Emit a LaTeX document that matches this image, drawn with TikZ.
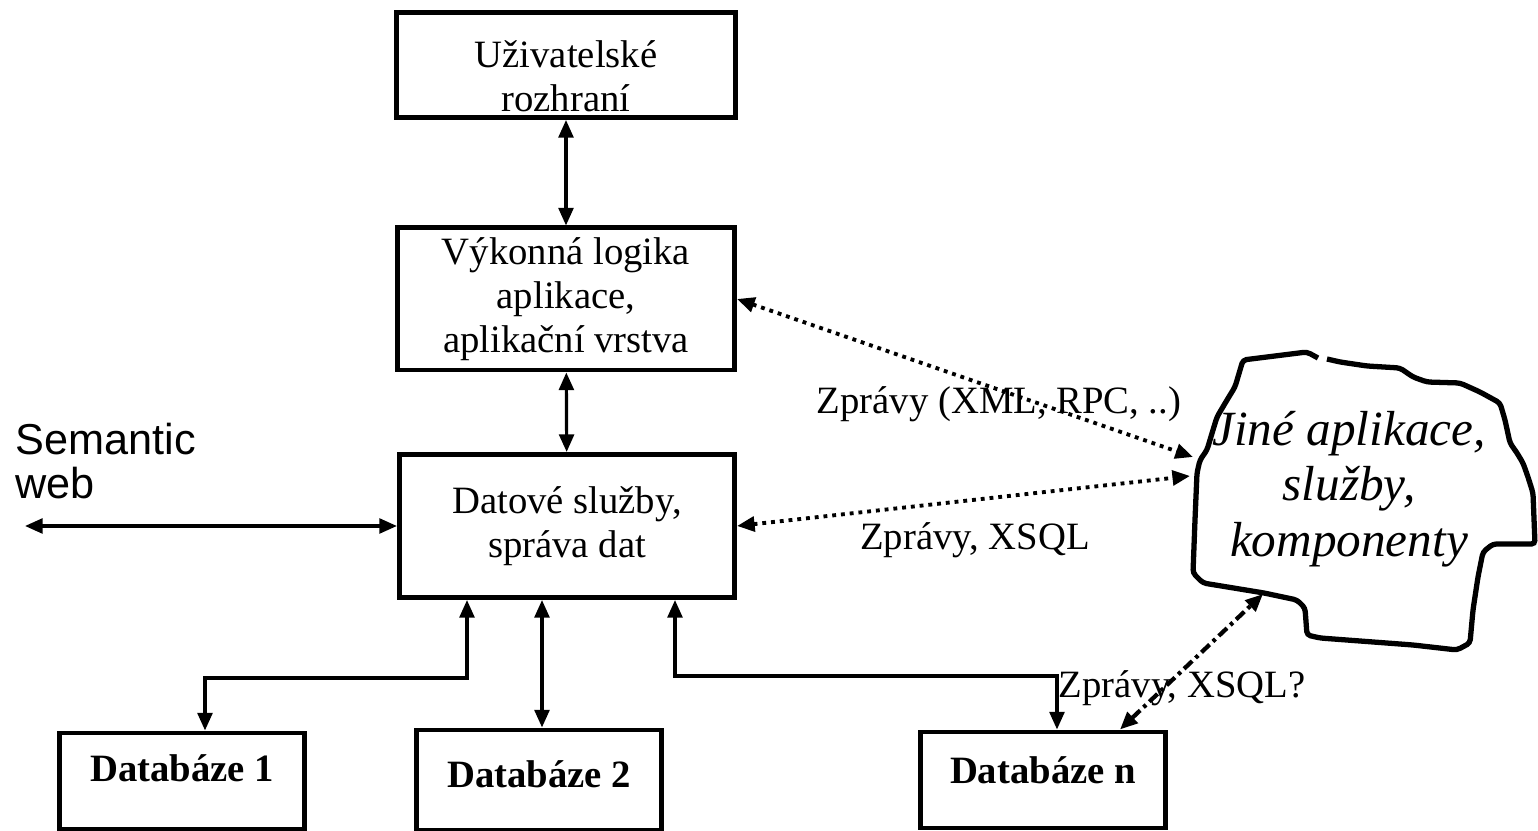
\documentclass[tikz,border=0pt]{standalone}
\usepackage{fontspec}
\setmainfont{Liberation Serif}
\newfontfamily\arialfont{Liberation Sans}
\usetikzlibrary{arrows.meta}

\begin{document}
\begin{tikzpicture}[x=0.01cm, y=-0.01cm,
    box/.style={draw, line width=1.4pt, align=center, inner sep=0pt,
      font=\fontsize{11}{12.6}\selectfont},
    dbbox/.style={box, font=\fontsize{11}{12.6}\selectfont\bfseries,
      minimum width=2.44cm, minimum height=0.96cm},
    arr/.style={line width=0.9pt, >={Triangle[length=5pt,width=4.2pt]}},
    msg/.style={arr, line width=1.1pt, dash pattern=on 1.1pt off 1.4pt},
    msgdot/.style={arr, line width=1.2pt, dash pattern=on 3.2pt off 1.3pt on 1pt off 1.3pt},
    lbl/.style={inner sep=0pt, font=\fontsize{11}{12.6}\selectfont}]
  \useasboundingbox (0,0) rectangle (1538,831);

  % vrstvy
  \path
    (566,65) node[box, minimum width=3.38cm, minimum height=1.05cm] (ui) {\rule{0pt}{0.5cm}U\v{z}ivatelsk\'e\\rozhran\'i}
    (566,299) node[box, minimum width=3.37cm, minimum height=1.42cm] (logic) {V\'ykonn\'a logika\\aplikace,\\aplika\v{c}n\'i vrstva}
    (567,526) node[box, minimum width=3.35cm, minimum height=1.43cm] (data) {Datov\'e slu\v{z}by,\\spr\'ava dat}
    (182,781) node[dbbox, text depth=0.26cm] (db1) {Datab\'aze 1}
    (539,780) node[dbbox, text depth=0.12cm, minimum height=1.0cm] (db2) {Datab\'aze 2}
    (1043,780) node[dbbox, text depth=0.2cm] (dbn) {Datab\'aze n};

  % jine aplikace
  \draw[line width=1.5pt, rounded corners=1pt]
    (1327,359) -- (1340,362) -- (1367,366) -- (1400,368) -- (1413,377) -- (1427,382)
    -- (1460,383) -- (1480,392) -- (1500,403) -- (1505,420) -- (1510,443) -- (1517,453)
    -- (1523,463) -- (1528,477) -- (1533,493) -- (1535,544) -- (1493,544) -- (1483,552)
    -- (1478,577) -- (1473,610) -- (1470,643) -- (1457,650) -- (1413,645) -- (1320,638)
    -- (1307,635) -- (1305,608) -- (1297,600) -- (1264,593) -- (1203,583) -- (1193,573)
    -- (1195,520) -- (1197,473) -- (1200,460) -- (1207,450) -- (1213,430) -- (1217,417)
    -- (1227,400) -- (1235,387) -- (1243,360) -- (1307,352) -- (1318,358);
  \node[font=\fontsize{14}{15.8}\selectfont\itshape, align=center, inner sep=0pt]
    (cloud) at (1349,489) {Jin\'e aplikace,\\slu\v{z}by,\\komponenty};
  \coordinate (cA) at (1193,457);
  \coordinate (cB) at (1190,476);
  \coordinate (cC) at (1263,594);

  \node[font=\arialfont\fontsize{12.3}{12.3}\selectfont, align=left, inner sep=0pt,
    anchor=west] (sw) at (15,461) {Semantic\\web};
  \coordinate (swe) at (25,526);

  \coordinate (k1) at (205,678);
  \coordinate (k2) at (467,678);
  \coordinate (k3) at (542,665);
  \coordinate (k4) at (675,676);
  \coordinate (k5) at (1057,676);

  \begin{scope}[arr]
    \draw[<->] (ui) -- (logic);
    \draw[<->] (logic) -- (data);
    \draw[<->] (swe) -- (swe -| data.west);
    \draw[<->] (db1.north -| k1) -- (k1) -- (k2) -- (data.south -| k2);
    \draw[<->] (data.south -| k3) -- (db2.north -| k3);
    \draw[<->] (data.south -| k4) -- (k4) -- (k5) -- (dbn.north -| k5);
    \draw[msg, <->] (logic.east) -- (cA);
    \draw[msg, <->] (data.east) -- (cB);
    \draw[msgdot, <->] (dbn.north -| 1120,0) -- (cC);
  \end{scope}

  \node[lbl] (m1) at (999,404) {Zpr\'avy (XML, RPC, ..)};
  \node[lbl] (m2) at (975,540) {Zpr\'avy, XSQL};
  \node[lbl] (m3) at (1182,688) {Zpr\'avy, XSQL?};
\end{tikzpicture}
\end{document}
